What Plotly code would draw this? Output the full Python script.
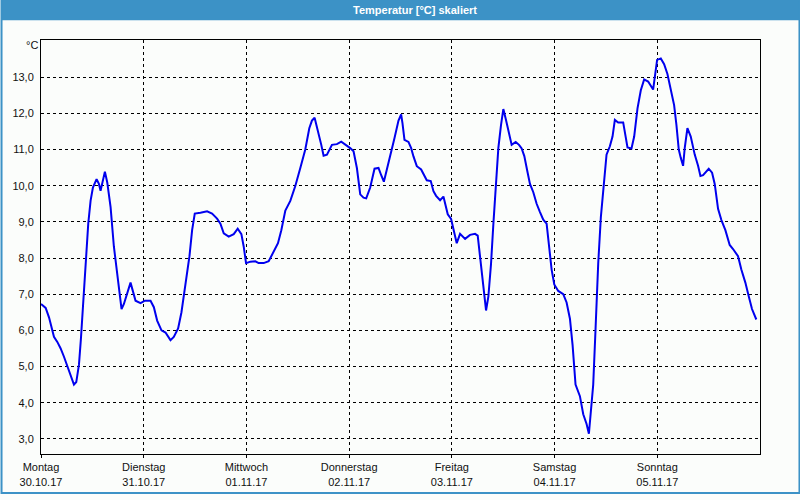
import plotly.graph_objects as go

# Hours since Monday 30.10.17 00:00
hours = [
    0.0, 1.09, 1.87, 2.49, 3.03, 3.81, 4.59, 5.37, 6.14, 6.92, 7.7, 8.24, 8.87, 9.33, 9.88,
    10.42, 11.04, 11.59, 12.13, 12.99, 13.53, 13.92, 14.31, 14.93, 15.48, 16.26, 17.03,
    17.81, 18.43, 18.82, 19.37, 20.14, 20.92, 21.55, 22.09, 23.26, 24.27, 25.59, 26.37,
    27.14, 28.15, 29.09, 30.25, 31.03, 32.04, 32.82, 33.75, 34.69, 35.31, 35.93, 37.25,
    38.81, 39.97, 41.14, 41.92, 42.7, 43.86, 45.03, 45.96, 46.82, 47.36, 47.91, 48.92,
    50.09, 50.86, 52.03, 53.2, 54.36, 55.37, 56.15, 57.09, 58.25, 59.42, 60.59, 61.75,
    62.69, 63.31, 63.93, 64.71, 65.49, 66.03, 66.81, 67.98, 69.14, 70.15, 71.09, 72.25,
    73.03, 73.81, 74.59, 75.36, 75.99, 76.92, 77.93, 78.86, 79.49, 80.11, 80.81, 81.59,
    82.6, 83.53, 84.15, 84.46, 84.93, 85.86, 86.49, 87.03, 87.81, 88.82, 89.6, 90.14,
    91.07, 91.7, 92.32, 93.25, 94.03, 94.57, 95.04, 95.82, 96.36, 97.14, 97.92, 99.09,
    100.25, 101.42, 102.04, 102.59, 103.13, 103.6, 103.99, 104.53, 105.15, 105.7, 106.32,
    106.86, 107.49, 108.03, 108.57, 109.2, 109.97, 110.91, 111.69, 112.31, 112.93, 113.71,
    114.25, 115.03, 115.81, 116.59, 117.36, 118.14, 118.69, 119.31, 119.93, 120.86, 122.03,
    122.81, 123.59, 124.21, 124.9, 125.92, 126.7, 127.48, 128.02, 128.49, 129.03, 129.58,
    130.2, 130.82, 131.44, 132.14, 132.92, 133.54, 134.09, 134.86, 136.03, 136.57, 137.04,
    137.97, 138.6, 139.38, 140.15, 140.93, 141.86, 143.03, 143.42, 143.96, 144.82, 145.6,
    146.37, 147.15, 147.93, 148.47, 149.02, 149.49, 150.03, 150.42, 151.04, 151.82, 152.75,
    153.53, 154.08, 154.7, 155.48, 156.02, 156.8, 157.42, 158.2, 158.98, 159.91, 160.92,
    161.7, 162.87, 163.64, 164.58, 165.35, 166.13, 167.14,
]
temps = [
    6.73, 6.62, 6.36, 6.09, 5.82, 5.68, 5.5, 5.27, 5.0, 4.77, 4.5, 4.57, 5.05, 5.77, 6.9,
    7.91, 8.95, 9.59, 9.95, 10.18, 10.05, 9.86, 10.09, 10.39, 10.09, 9.41, 8.32,
    7.59, 6.95, 6.59, 6.73, 7.05, 7.32, 7.05, 6.82, 6.75, 6.82, 6.82, 6.64,
    6.27, 6.0, 5.94, 5.73, 5.82, 6.05, 6.5, 7.23, 8.05, 8.77, 9.23, 9.25,
    9.29, 9.23, 9.09, 8.95, 8.68, 8.59, 8.66, 8.81, 8.66, 8.32, 7.86, 7.9,
    7.91, 7.86, 7.86, 7.91, 8.18, 8.41, 8.77, 9.31, 9.58, 9.99, 10.49, 11.0,
    11.59, 11.8, 11.88, 11.54, 11.13, 10.83, 10.86, 11.13, 11.15, 11.22, 11.15, 11.04,
    10.95, 10.49, 9.76, 9.67, 9.65, 9.95, 10.47, 10.49, 10.29, 10.11, 10.45, 10.81,
    11.32, 11.8, 11.97, 11.73, 11.27, 11.21, 11.04, 10.81, 10.54, 10.45, 10.26, 10.15,
    10.13, 9.85, 9.72, 9.6, 9.7, 9.44, 9.21, 9.08, 8.8, 8.41, 8.67, 8.53,
    8.64, 8.67, 8.62, 8.03, 7.48, 7.03, 6.55, 6.93, 7.84, 8.94, 10.04,
    11.04, 11.68, 12.12, 11.86, 11.5, 11.13, 11.21, 11.13, 11.03, 10.82, 10.36,
    10.05, 9.82, 9.5, 9.27, 9.06, 8.95, 8.41, 7.68, 7.27, 7.09, 7.0,
    6.77, 6.32, 5.59, 4.5, 4.18, 3.68, 3.41, 3.14, 3.68, 4.5, 6.05,
    7.86, 9.14, 9.95, 10.86, 11.09, 11.36, 11.82, 11.75, 11.75, 11.32, 11.06,
    11.03, 11.36, 12.14, 12.64, 12.94, 12.88, 12.66, 12.95, 13.48, 13.52, 13.36,
    13.09, 12.68, 12.23, 11.68, 11.0, 10.77, 10.55, 11.05, 11.59, 11.36, 10.86,
    10.55, 10.27, 10.29, 10.41, 10.47, 10.36, 10.05, 9.36, 9.05, 8.77, 8.36,
    8.25, 8.05, 7.68, 7.32, 6.95, 6.59, 6.3,
]

day_ticks = [0, 24, 48, 72, 96, 120, 144]
day_names = ["Montag", "Dienstag", "Mittwoch", "Donnerstag", "Freitag", "Samstag", "Sonntag"]
day_dates = ["30.10.17", "31.10.17", "01.11.17", "02.11.17", "03.11.17", "04.11.17", "05.11.17"]
y_ticks = [3, 4, 5, 6, 7, 8, 9, 10, 11, 12, 13]

title_text = "Temperatur [°C] skaliert"
unit_text = "°C"

BAR = "rgb(60,146,198)"
BG = "#fbfdfb"

fig = go.Figure()
fig.add_trace(go.Scatter(
    x=hours, y=temps, mode="lines",
    line=dict(color="#0000ee", width=2),
    hoverinfo="skip", showlegend=False,
))

fig.update_layout(
    width=800, height=500,
    margin=dict(l=40, r=40, t=40, b=40),
    paper_bgcolor=BG, plot_bgcolor=BG,
    separators=",.",
    font=dict(family="Liberation Sans, Arial, sans-serif", size=11, color="#111111"),
    xaxis=dict(
        range=[0, 168], tickmode="array", tickvals=day_ticks,
        ticktext=[f"{n}<br>{d}" for n, d in zip(day_names, day_dates)],
        showgrid=True, gridcolor="black", gridwidth=1, griddash="3px,3px",
        zeroline=False, showline=True, linecolor="black", linewidth=1, mirror=True,
        ticks="outside", ticklen=3, tickcolor="black",
        tickfont=dict(size=11),
    ),
    yaxis=dict(
        range=[2.58, 14.03], tickmode="array", tickvals=y_ticks, tickformat=".1f",
        showgrid=True, gridcolor="black", gridwidth=1, griddash="3px,3px",
        zeroline=False, showline=True, linecolor="black", linewidth=1, mirror=True,
        ticks="", ticklabelstandoff=4,
        tickfont=dict(size=11),
    ),
    shapes=[
        dict(type="rect", xref="paper", yref="paper",
             x0=-0.0556, x1=1.0556, y0=1.0476, y1=1.0952,
             fillcolor=BAR, line=dict(width=0), layer="below"),
        dict(type="rect", xref="paper", yref="paper",
             x0=-0.0549, x1=1.0549, y0=-0.0940, y1=1.0952,
             fillcolor="rgba(0,0,0,0)", line=dict(color=BAR, width=2), layer="above"),
    ],
    annotations=[
        dict(text=f"<b>{title_text}</b>", xref="paper", yref="paper",
             x=0.5208, y=1.0714, showarrow=False, xanchor="center", yanchor="middle",
             font=dict(color="white", size=11, family="Liberation Sans, Arial, sans-serif")),
        dict(text=unit_text, xref="paper", yref="paper",
             x=-0.0125, y=0.987, showarrow=False, xanchor="center", yanchor="middle",
             font=dict(size=11)),
    ],
)

fig.write_html("out.html")
